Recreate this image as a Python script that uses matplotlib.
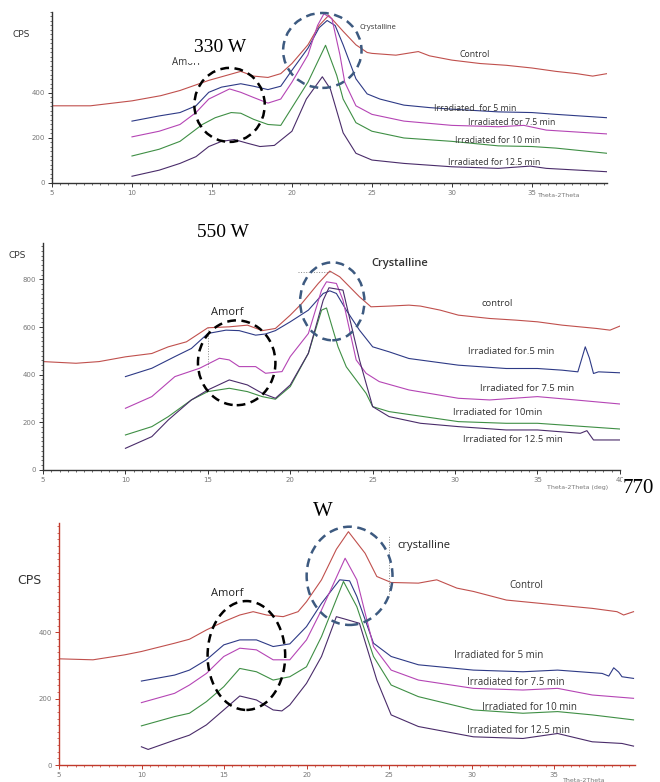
import matplotlib.pyplot as plt
from matplotlib.patches import Ellipse
from matplotlib.ticker import MultipleLocator

# ---------------- 330 W ----------------
w330_ctrl_x = [5, 7.4, 10, 11.8, 13, 14, 14.8, 16.3, 16.8, 17.6, 18.5, 19.3, 20, 21, 21.7, 22.3, 23.2, 24.0, 24.7, 25.0, 26.5, 27.9, 28.6, 30, 31.75, 33.4, 35, 36.5, 37.8, 38.8, 39.7]
w330_ctrl_y = [343, 343, 365, 388, 411, 436, 456, 486, 496, 475, 469, 486, 531, 614, 700, 745, 674, 614, 580, 576, 568, 584, 565, 546, 531, 523, 511, 496, 486, 475, 486]
w330_5_x = [10, 11.7, 13, 14, 14.8, 15.6, 16.8, 17.6, 18.5, 19.3, 20, 21, 21.7, 22.2, 22.7, 23.2, 24.0, 24.7, 25.5, 27, 28.6, 30, 32.9, 35, 36.5, 39.7]
w330_5_y = [275, 298, 313, 343, 403, 426, 441, 430, 415, 430, 501, 599, 690, 722, 700, 614, 463, 396, 373, 346, 335, 328, 316, 313, 305, 290]
w330_75_x = [10, 11.7, 13, 14, 14.8, 16.1, 16.8, 17.6, 18.5, 19.3, 20, 21, 21.6, 22.0, 22.5, 23.0, 23.3, 24.0, 25, 27, 30, 32.9, 34.5, 35.9, 39.7]
w330_75_y = [205, 230, 260, 313, 373, 418, 403, 380, 355, 373, 448, 569, 700, 752, 730, 569, 448, 343, 305, 275, 256, 250, 256, 235, 218]
w330_10_x = [10, 11.7, 13, 14.4, 15.2, 16.2, 16.8, 17.6, 18.5, 19.3, 20, 21, 22.1, 22.8, 23.2, 24.0, 25, 27, 30, 32.9, 35, 36.5, 39.7]
w330_10_y = [120, 150, 185, 260, 290, 313, 310, 283, 260, 256, 335, 448, 612, 478, 373, 268, 230, 200, 185, 165, 162, 155, 132]
w330_125_x = [10, 11.7, 13, 14, 14.8, 15.6, 16.4, 17.2, 18, 18.9, 20, 20.9, 21.9, 22.4, 23.2, 24.0, 25, 27, 30, 32.9, 34.9, 35.9, 39.7]
w330_125_y = [30, 57, 87, 117, 162, 185, 193, 177, 162, 167, 230, 373, 472, 418, 223, 132, 102, 87, 72, 65, 75, 65, 50]

# ---------------- 550 W ----------------
w550_ctrl_x = [5, 7, 8.4, 10, 11.6, 12.6, 13.7, 15, 16.3, 17.4, 18.3, 19.1, 20, 20.7, 21.7, 22.4, 23.0, 24.2, 24.9, 26, 27.2, 27.9, 29.1, 30.2, 32.1, 33.7, 35, 36.5, 38.6, 39.4, 40]
w550_ctrl_y = [455, 448, 455, 475, 489, 517, 538, 597, 601, 608, 585, 594, 650, 699, 783, 835, 811, 727, 685, 688, 692, 688, 671, 650, 636, 629, 622, 608, 594, 587, 604]
w550_5_x = [10, 11.6, 13, 14, 15, 16.1, 16.9, 17.9, 18.5, 19.1, 20, 21.1, 22, 22.4, 22.8, 23.4, 24.2, 25, 26, 27.2, 30.2, 33.1, 35, 36.5, 37.45, 37.7, 37.9, 38.15, 38.4, 38.7, 40]
w550_5_y = [392, 427, 476, 510, 573, 587, 585, 566, 571, 585, 622, 671, 741, 752, 741, 671, 587, 517, 496, 468, 440, 426, 426, 419, 412, 470, 517, 470, 405, 412, 408]
w550_75_x = [10, 11.6, 13, 14.5, 15.7, 16.3, 16.9, 17.9, 18.5, 19.5, 20, 21.1, 21.9, 22.2, 22.8, 23.2, 24.0, 24.6, 25.4, 27.2, 30.2, 32.1, 35, 37.3, 40]
w550_75_y = [259, 308, 392, 427, 469, 462, 434, 434, 406, 413, 476, 573, 755, 790, 783, 713, 462, 406, 371, 336, 301, 294, 308, 294, 277]
w550_10_x = [10, 11.6, 12.6, 14, 15, 16.3, 17.4, 18.3, 19.1, 20, 21.1, 21.9, 22.2, 22.9, 23.4, 24.6, 25, 26, 30.2, 33.1, 35, 40]
w550_10_y = [147, 182, 224, 294, 329, 343, 329, 308, 297, 350, 490, 671, 680, 517, 433, 322, 266, 245, 203, 196, 196, 172]
w550_125_x = [10, 11.6, 12.6, 14, 15, 16.3, 17.4, 18.3, 19.1, 20, 21.1, 22, 22.35, 23.2, 24.2, 25, 26, 27.9, 30.2, 33.1, 35, 37.6, 38, 38.4, 40]
w550_125_y = [91, 140, 210, 294, 336, 378, 357, 322, 301, 357, 490, 713, 765, 755, 462, 266, 224, 196, 182, 168, 168, 154, 165, 126, 126]

# ---------------- 770 W ----------------
w770_ctrl_x = [5, 7.06, 8.98, 9.99, 12.0, 12.9, 13.93, 14.98, 15.95, 16.76, 17.57, 18.58, 19.48, 19.99, 20.9, 21.8, 22.53, 23.54, 24.25, 25.12, 26.77, 27.88, 29.1, 30.1, 32.1, 35.2, 37.3, 38.8, 39.2, 39.8]
w770_ctrl_y = [320, 317, 332, 342, 367, 379, 407, 432, 452, 462, 452, 447, 462, 492, 558, 650, 703, 638, 568, 550, 548, 558, 533, 523, 497, 482, 472, 462, 452, 462]
w770_5_x = [9.99, 12.0, 12.9, 13.93, 14.98, 15.95, 16.96, 17.97, 18.98, 19.99, 20.9, 22.0, 22.6, 23.04, 24.05, 25.12, 26.77, 30.1, 33.1, 35.2, 37.9, 38.3, 38.6, 38.9, 39.1, 39.8]
w770_5_y = [253, 271, 286, 317, 362, 377, 377, 357, 365, 417, 487, 558, 555, 508, 367, 327, 302, 286, 281, 286, 276, 268, 293, 280, 266, 261]
w770_75_x = [9.99, 12.0, 12.9, 13.93, 14.98, 15.95, 16.96, 17.97, 18.98, 19.99, 20.9, 22.33, 23.04, 24.05, 25.12, 26.77, 30.1, 33.1, 35.2, 37.3, 39.8]
w770_75_y = [188, 216, 241, 276, 327, 352, 347, 317, 317, 377, 467, 623, 558, 357, 286, 256, 231, 226, 231, 211, 201]
w770_10_x = [9.99, 12.0, 12.9, 13.93, 14.98, 15.95, 16.96, 17.97, 18.98, 19.99, 20.9, 22.23, 23.04, 24.05, 25.12, 26.77, 30.1, 33.1, 35.2, 37.3, 39.8]
w770_10_y = [118, 146, 156, 191, 236, 291, 281, 256, 266, 296, 387, 553, 477, 327, 241, 206, 166, 156, 161, 151, 136]
w770_125_x = [9.99, 10.4, 12.0, 12.9, 13.93, 14.98, 15.95, 16.96, 17.97, 18.5, 18.98, 19.99, 20.9, 21.8, 22.3, 23.2, 24.25, 25.12, 26.77, 30.1, 33.1, 35.2, 37.3, 39.1, 39.8]
w770_125_y = [55, 47, 75, 90, 121, 166, 208, 196, 166, 163, 181, 246, 327, 447, 440, 427, 256, 151, 116, 85, 80, 95, 70, 65, 57]

# colours of the diffractometer traces
c_ctrl = '#c0504d'
c_5 = '#2e3a86'
c_75 = '#b545b5'
c_10 = '#3f8f45'
c_125 = '#4a2c6a'

lbl_font = 'Open Sans'
serif_font = 'Liberation Serif'

fig = plt.figure(figsize=(6.6, 7.82), dpi=100)


def style_axes(ax, spine_col, xmax, ymax, yticks, xticks):
    ax.set_xlim(5, xmax)
    ax.set_ylim(0, ymax)
    for s in ['top', 'right']:
        ax.spines[s].set_visible(False)
    for s in ['left', 'bottom']:
        ax.spines[s].set_color(spine_col)
        ax.spines[s].set_linewidth(1.0)
    ax.set_xticks(xticks)
    ax.set_yticks(yticks)
    ax.xaxis.set_minor_locator(MultipleLocator(0.5))
    ax.yaxis.set_minor_locator(MultipleLocator(20))
    ax.tick_params(which='major', length=3, width=0.7, color=spine_col, labelsize=5, labelcolor='#777777', pad=2)
    ax.tick_params(which='minor', length=1.5, width=0.5, color=spine_col)


def draw_traces(ax, series):
    for xs, ys, col in series:
        ax.plot(xs, ys, color=col, lw=0.8)


def ell(ax, cx, cy, w, h, col):
    ax.add_patch(Ellipse((cx, cy), w, h, fill=False, ec=col, lw=1.8, ls=(0, (3.5, 2.2)), zorder=5, clip_on=False))


# ---- panel 1: 330 W
ax1 = fig.add_axes([0.0788, 0.766, 0.841, 0.2187])
style_axes(ax1, '#333333', 39.7, 760, [0, 200, 400], [5, 10, 15, 20, 25, 30, 35])
draw_traces(ax1, [(w330_ctrl_x, w330_ctrl_y, c_ctrl), (w330_5_x, w330_5_y, c_5), (w330_75_x, w330_75_y, c_75),
                  (w330_10_x, w330_10_y, c_10), (w330_125_x, w330_125_y, c_125)])
ell(ax1, 16.1, 347, 4.4, 329, 'black')
ell(ax1, 21.9, 589, 4.9, 333, '#3d5a80')
# the "Amorf" label is mostly hidden under the "330 W" box in the source figure
ax1.text(13.4, 535, 'Amorf', fontsize=7, family=lbl_font, color='#333333', ha='center', va='center')
ax1.text(15.5, 604, '330 W', fontsize=14, family=serif_font, ha='center', va='center', zorder=6,
         bbox=dict(fc='white', ec='none', pad=5))
ax1.text(24.25, 689, 'Crystalline', fontsize=5.5, family=lbl_font, color='#333333', va='center')
ax1.text(30.5, 573, 'Control', fontsize=6.3, family=lbl_font, color='#333333', va='center')
ax1.text(28.9, 333, 'Irradiated  for 5 min', fontsize=6.3, family=lbl_font, color='#333333', va='center')
ax1.text(31.0, 267, 'Irradiated for 7.5 min', fontsize=6.3, family=lbl_font, color='#333333', va='center')
ax1.text(30.2, 187, 'Irradiated for 10 min', fontsize=6.3, family=lbl_font, color='#333333', va='center')
ax1.text(29.75, 93, 'Irradiated for 12.5 min', fontsize=6.3, family=lbl_font, color='#333333', va='center')
ax1.text(35.4, -55, 'Theta-2Theta', fontsize=4.5, color='#777777', va='center', clip_on=False)
ax1.text(2.56, 658, 'CPS', fontsize=6.5, color='#333333', va='center', clip_on=False)

# ---- panel 2: 550 W
ax2 = fig.add_axes([0.0652, 0.399, 0.874, 0.290])
style_axes(ax2, '#333333', 40, 952, [0, 200, 400, 600, 800], [5, 10, 15, 20, 25, 30, 35, 40])
draw_traces(ax2, [(w550_ctrl_x, w550_ctrl_y, c_ctrl), (w550_5_x, w550_5_y, c_5), (w550_75_x, w550_75_y, c_75),
                  (w550_10_x, w550_10_y, c_10), (w550_125_x, w550_125_y, c_125)])
ax2.plot([20.5, 22.6], [830, 830], color='#888888', lw=0.7, ls=':')
ax2.plot([15, 15], [432, 595], color='#888888', lw=0.7, ls=':')
ell(ax2, 16.75, 450, 4.7, 356, 'black')
ell(ax2, 22.55, 708, 3.9, 327, '#3d5a80')
ax2.text(16.16, 662, 'Amorf', fontsize=8, family=lbl_font, color='#222222', ha='center', va='center')
ax2.text(15.9, 997, '550 W', fontsize=14, family=serif_font, ha='center', va='center', clip_on=False)
ax2.text(24.95, 867, 'Crystalline', fontsize=8, family=lbl_font, fontweight='semibold', color='#333333', va='center')
ax2.text(31.6, 700, 'control', fontsize=6.8, family=lbl_font, color='#333333', va='center')
ax2.text(30.8, 499, 'Irradiated for.5 min', fontsize=6.8, family=lbl_font, color='#333333', va='center')
ax2.text(31.5, 344, 'Irradiated for 7.5 min', fontsize=6.8, family=lbl_font, color='#333333', va='center')
ax2.text(29.9, 243, 'Irradiated for 10min', fontsize=6.8, family=lbl_font, color='#333333', va='center')
ax2.text(30.5, 126, 'Irradiated for 12.5 min', fontsize=6.8, family=lbl_font, color='#333333', va='center')
ax2.text(35.56, -72, 'Theta-2Theta (deg)', fontsize=4.5, color='#777777', va='center', clip_on=False)
ax2.text(40.15, -76, '770', fontsize=15, family=serif_font, va='center', clip_on=False, zorder=6,
         bbox=dict(fc='white', ec='none', pad=0.5))
ax2.text(2.88, 900, 'CPS', fontsize=6.5, color='#333333', va='center', clip_on=False)

# ---- panel 3: 770 W
red_axis = '#c0392b'
ax3 = fig.add_axes([0.0894, 0.0217, 0.873, 0.309])
style_axes(ax3, red_axis, 39.9, 728, [0, 200, 400], [5, 10, 15, 20, 25, 30, 35])
draw_traces(ax3, [(w770_ctrl_x, w770_ctrl_y, c_ctrl), (w770_5_x, w770_5_y, c_5), (w770_75_x, w770_75_y, c_75),
                  (w770_10_x, w770_10_y, c_10), (w770_125_x, w770_125_y, c_125)])
ax3.plot([25, 25], [515, 690], color='#888888', lw=0.7, ls=':')
ell(ax3, 16.35, 330, 4.7, 328, 'black')
ell(ax3, 22.6, 570, 5.2, 296, '#3d5a80')
ax3.text(21.0, 764, 'W', fontsize=15, family=serif_font, ha='center', va='center', clip_on=False)
ax3.text(15.18, 517, 'Amorf', fontsize=8, family=lbl_font, color='#222222', ha='center', va='center')
ax3.text(25.5, 662, 'crystalline', fontsize=8, family=lbl_font, color='#222222', va='center')
ax3.text(32.3, 541, 'Control', fontsize=7, family=lbl_font, color='#333333', va='center')
ax3.text(28.9, 331, 'Irradiated for 5 min', fontsize=7, family=lbl_font, color='#333333', va='center')
ax3.text(29.7, 250, 'Irradiated for 7.5 min', fontsize=7, family=lbl_font, color='#333333', va='center')
ax3.text(30.6, 174, 'Irradiated for 10 min', fontsize=7, family=lbl_font, color='#333333', va='center')
ax3.text(29.7, 105, 'Irradiated for 12.5 min', fontsize=7, family=lbl_font, color='#333333', va='center')
ax3.text(35.5, -46, 'Theta-2Theta', fontsize=4.5, color='#777777', va='center', clip_on=False)
ax3.text(2.45, 556, 'CPS', fontsize=9, color='#333333', va='center', clip_on=False)

plt.savefig('out.png', dpi=100)
